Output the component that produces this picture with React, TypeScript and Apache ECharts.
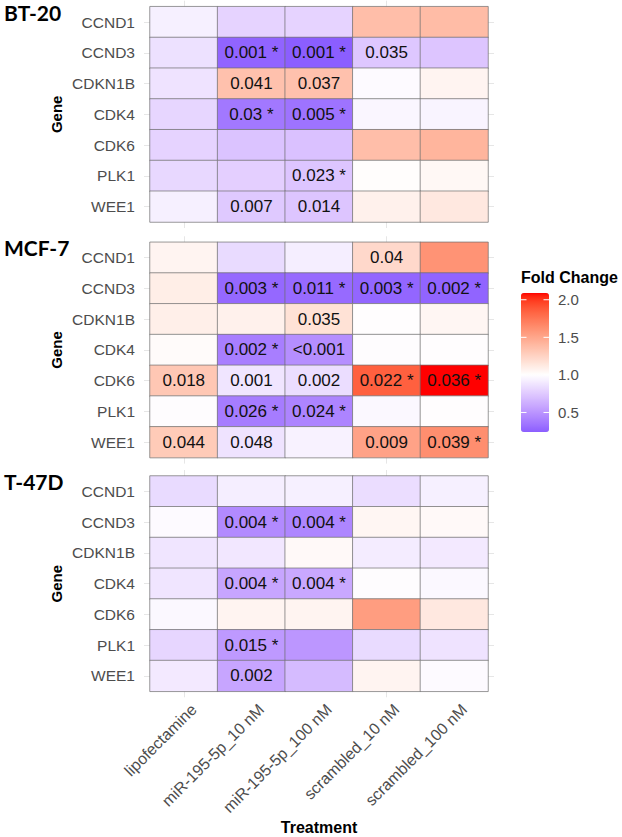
import React, { useEffect, useRef } from "react";
import * as echarts from "echarts";

const treatments = [
  "lipofectamine",
  "miR-195-5p_10 nM",
  "miR-195-5p_100 nM",
  "scrambled_10 nM",
  "scrambled_100 nM",
];
const genes = ["CCND1", "CCND3", "CDKN1B", "CDK4", "CDK6", "PLK1", "WEE1"];
const cellLines = ["BT-20", "MCF-7", "T-47D"];

// Fold change: one row per gene, one column per treatment
const bt20Fold = [
  [0.93, 0.8, 0.8, 1.37, 1.38],
  [0.86, 0.27, 0.24, 0.74, 0.73],
  [0.87, 1.35, 1.35, 0.98, 1.06],
  [0.81, 0.36, 0.34, 0.96, 0.95],
  [0.8, 0.72, 0.71, 1.37, 1.42],
  [0.82, 0.78, 0.73, 1.01, 1.04],
  [0.93, 0.75, 0.73, 1.08, 1.13],
];
const mcf7Fold = [
  [1.06, 0.83, 0.92, 1.22, 1.6],
  [1.1, 0.29, 0.3, 0.28, 0.27],
  [1.09, 1.08, 1.17, 1.0, 1.05],
  [1.02, 0.39, 0.47, 0.99, 1.0],
  [1.32, 0.88, 0.84, 1.85, 2.09],
  [0.99, 0.38, 0.42, 0.97, 1.0],
  [1.3, 0.87, 0.94, 1.52, 1.63],
];
const t47dFold = [
  [0.83, 0.92, 0.93, 0.84, 0.93],
  [0.98, 0.45, 0.43, 1.05, 1.03],
  [0.88, 0.89, 1.03, 0.91, 0.9],
  [0.88, 0.58, 0.59, 0.99, 0.97],
  [0.97, 1.06, 1.06, 1.55, 1.13],
  [0.81, 0.52, 0.51, 0.83, 0.87],
  [0.9, 0.58, 0.68, 1.06, 0.98],
];

// p-values printed in the tiles ("*" marks significance)
const bt20P = [
  ["", "", "", "", ""],
  ["", "0.001 *", "0.001 *", "0.035", ""],
  ["", "0.041", "0.037", "", ""],
  ["", "0.03 *", "0.005 *", "", ""],
  ["", "", "", "", ""],
  ["", "", "0.023 *", "", ""],
  ["", "0.007", "0.014", "", ""],
];
const mcf7P = [
  ["", "", "", "0.04", ""],
  ["", "0.003 *", "0.011 *", "0.003 *", "0.002 *"],
  ["", "", "0.035", "", ""],
  ["", "0.002 *", "<0.001", "", ""],
  ["0.018", "0.001", "0.002", "0.022 *", "0.036 *"],
  ["", "0.026 *", "0.024 *", "", ""],
  ["0.044", "0.048", "", "0.009", "0.039 *"],
];
const t47dP = [
  ["", "", "", "", ""],
  ["", "0.004 *", "0.004 *", "", ""],
  ["", "", "", "", ""],
  ["", "0.004 *", "0.004 *", "", ""],
  ["", "", "", "", ""],
  ["", "0.015 *", "", "", ""],
  ["", "0.002", "", "", ""],
];

const legendTicks = [0.5, 1.0, 1.5, 2.0];

const foldSets = [bt20Fold, mcf7Fold, t47dFold];
const pSets = [bt20P, mcf7P, t47dP];

// ---- colour scale: blue - white - red, interpolated in CIE Lab, centred on 1 ----
type RGB = [number, number, number];
const toLin = (c: number) => {
  const v = c / 255;
  return v <= 0.04045 ? v / 12.92 : Math.pow((v + 0.055) / 1.055, 2.4);
};
const fromLin = (c: number) => {
  const v = c <= 0.0031308 ? 12.92 * c : 1.055 * Math.pow(c, 1 / 2.4) - 0.055;
  return Math.round(Math.min(1, Math.max(0, v)) * 255);
};
function rgbToLab(c: RGB): RGB {
  const R = toLin(c[0]), G = toLin(c[1]), B = toLin(c[2]);
  const X = (0.4124 * R + 0.3576 * G + 0.1805 * B) / 0.95047;
  const Y = 0.2126 * R + 0.7152 * G + 0.0722 * B;
  const Z = (0.0193 * R + 0.1192 * G + 0.9505 * B) / 1.08883;
  const f = (t: number) => (t > 0.008856 ? Math.cbrt(t) : 7.787 * t + 16 / 116);
  return [116 * f(Y) - 16, 500 * (f(X) - f(Y)), 200 * (f(Y) - f(Z))];
}
function labToRgb(l: RGB): string {
  const fy = (l[0] + 16) / 116;
  const fx = fy + l[1] / 500;
  const fz = fy - l[2] / 200;
  const inv = (t: number) => (t * t * t > 0.008856 ? t * t * t : (t - 16 / 116) / 7.787);
  const X = inv(fx) * 0.95047, Y = inv(fy), Z = inv(fz) * 1.08883;
  const R = 3.2406 * X - 1.5372 * Y - 0.4986 * Z;
  const G = -0.9689 * X + 1.8758 * Y + 0.0415 * Z;
  const B = 0.0557 * X - 0.204 * Y + 1.057 * Z;
  return `rgb(${fromLin(R)},${fromLin(G)},${fromLin(B)})`;
}
const LOW = rgbToLab([0, 0, 255]);
const MID = rgbToLab([255, 255, 255]);
const HIGH = rgbToLab([255, 0, 0]);
const mix = (a: RGB, b: RGB, s: number): RGB => [
  a[0] + (b[0] - a[0]) * s,
  a[1] + (b[1] - a[1]) * s,
  a[2] + (b[2] - a[2]) * s,
];

const allValues = foldSets.flat(2);
const vMin = Math.min(...allValues);
const vMax = Math.max(...allValues);
const maxDev = Math.max(Math.abs(vMin - 1), Math.abs(vMax - 1));
function fillFor(v: number): string {
  const t = 0.5 + (v - 1) / (2 * maxDev);
  if (t < 0.5) return labToRgb(mix(LOW, MID, t / 0.5));
  return labToRgb(mix(MID, HIGH, (t - 0.5) / 0.5));
}
const STOPS = 64;
const rampColors = Array.from({ length: STOPS }, (_, i) =>
  fillFor(vMin + ((vMax - vMin) * i) / (STOPS - 1))
);

// ---- layout ----
const GRID_LEFT = 150;
const GRID_WIDTH = 338;
const GRID_HEIGHT = 215.3;
const gridTops = [6.7, 242.3, 476];
const BAR = { x: 521, y: 293, w: 28, h: 139 };

const FONT = "'Liberation Sans', Arial, Helvetica, sans-serif";
const AXIS_TEXT = "#4d4d4d";
const GRIDLINE = "#e6e6e6";

export default function App() {
  const ref = useRef<HTMLDivElement>(null);

  useEffect(() => {
    if (!ref.current) return;
    const chart = echarts.init(ref.current, undefined, { renderer: "svg" });

    const grids = gridTops.map((top) => ({
      left: GRID_LEFT,
      top,
      width: GRID_WIDTH,
      height: GRID_HEIGHT,
      containLabel: false,
    }));

    const tickOnly = { show: true, length: 6, alignWithLabel: true, lineStyle: { color: GRIDLINE, width: 1 } };

    const xAxes: any[] = [];
    const yAxes: any[] = [];
    gridTops.forEach((_, i) => {
      xAxes.push({
        type: "category",
        gridIndex: i,
        data: treatments,
        position: "bottom",
        axisLine: { show: false },
        axisTick: tickOnly,
        axisLabel: { show: false },
        splitLine: { show: false },
      });
      xAxes.push({
        type: "category",
        gridIndex: i,
        data: treatments,
        position: "top",
        axisLine: { show: false },
        axisTick: tickOnly,
        axisLabel: { show: false },
        splitLine: { show: false },
      });
      yAxes.push({
        type: "category",
        gridIndex: i,
        data: genes,
        inverse: true,
        position: "left",
        axisLine: { show: false },
        axisTick: tickOnly,
        axisLabel: { show: true, fontSize: 15.5, color: AXIS_TEXT, fontFamily: FONT, margin: 15 },
        splitLine: { show: false },
      });
      yAxes.push({
        type: "category",
        gridIndex: i,
        data: genes,
        inverse: true,
        position: "right",
        axisLine: { show: false },
        axisTick: tickOnly,
        axisLabel: { show: false },
        splitLine: { show: false },
      });
    });

    const series = foldSets.map((fold, i) => {
      const labels = pSets[i];
      const data: any[] = [];
      fold.forEach((row, r) =>
        row.forEach((v, c) => data.push({ value: [c, r, v], label: { formatter: labels[r][c] } }))
      );
      return {
        type: "heatmap",
        name: cellLines[i],
        xAxisIndex: i * 2,
        yAxisIndex: i * 2,
        data,
        itemStyle: { borderColor: "#6e6e6e", borderWidth: 0.7 },
        label: { show: true, fontSize: 17, color: "#111111", fontFamily: FONT },
        emphasis: { disabled: true },
      };
    });

    const barY = (v: number) => BAR.y + ((vMax - v) / (vMax - vMin)) * BAR.h;

    const staticGraphics: any[] = [];
    gridTops.forEach((top, i) => {
      staticGraphics.push({
        type: "text",
        x: 4,
        y: top + 5.5,
        style: {
          text: cellLines[i],
          fill: "#000",
          font: `bold 21px Lato, 'Open Sans', sans-serif`,
          align: "left",
          verticalAlign: "middle",
        },
      });
      staticGraphics.push({
        type: "text",
        x: 56,
        y: top + GRID_HEIGHT / 2,
        rotation: Math.PI / 2,
        style: {
          text: "Gene",
          fill: "#000",
          font: `bold 15px ${FONT}`,
          align: "center",
          verticalAlign: "middle",
        },
      });
    });
    staticGraphics.push({
      type: "text",
      x: GRID_LEFT + GRID_WIDTH / 2,
      y: 827,
      style: { text: "Treatment", fill: "#000", font: `bold 16px ${FONT}`, align: "center", verticalAlign: "middle" },
    });
    staticGraphics.push({
      type: "text",
      x: 521,
      y: 277,
      style: { text: "Fold Change", fill: "#000", font: `bold 16px ${FONT}`, align: "left", verticalAlign: "middle" },
    });
    legendTicks.forEach((t) => {
      const y = barY(t);
      staticGraphics.push({
        type: "text",
        x: 558,
        y,
        style: { text: t.toFixed(1), fill: AXIS_TEXT, font: `15px ${FONT}`, align: "left", verticalAlign: "middle" },
      });
      staticGraphics.push({
        type: "line",
        z: 100,
        shape: { x1: BAR.x, y1: y, x2: BAR.x + 5.5, y2: y },
        style: { stroke: "#ffffff", lineWidth: 1 },
      });
      staticGraphics.push({
        type: "line",
        z: 100,
        shape: { x1: BAR.x + BAR.w - 5.5, y1: y, x2: BAR.x + BAR.w, y2: y },
        style: { stroke: "#ffffff", lineWidth: 1 },
      });
    });

    chart.setOption({
      animation: false,
      backgroundColor: "#ffffff",
      grid: grids,
      xAxis: xAxes,
      yAxis: yAxes,
      visualMap: {
        type: "continuous",
        min: vMin,
        max: vMax,
        seriesIndex: [0, 1, 2],
        calculable: false,
        hoverLink: false,
        realtime: false,
        orient: "vertical",
        left: BAR.x,
        top: BAR.y,
        itemWidth: BAR.w,
        itemHeight: BAR.h,
        padding: 0,
        text: ["", ""],
        showLabel: false,
        inRange: { color: rampColors },
      },
      series,
      graphic: staticGraphics,
    });

    // treatment labels under the last panel, placed from the axis scale
    const lastX = (gridTops.length - 1) * 2;
    const bottom = gridTops[gridTops.length - 1] + GRID_HEIGHT;
    const xLabels = treatments.map((t) => {
      const cx = chart.convertToPixel({ xAxisIndex: lastX } as any, t) as unknown as number;
      return {
        type: "text",
        x: cx + 10,
        y: bottom + 15.5,
        rotation: Math.PI / 4,
        style: { text: t, fill: AXIS_TEXT, font: `16px ${FONT}`, align: "right", verticalAlign: "middle" },
      };
    });
    chart.setOption({ graphic: [...staticGraphics, ...xLabels] });

    return () => chart.dispose();
  }, []);

  return (
    <div
      ref={ref}
      style={{ position: "absolute", left: 0, top: 0, width: 622, height: 837, background: "#fff" }}
    />
  );
}
